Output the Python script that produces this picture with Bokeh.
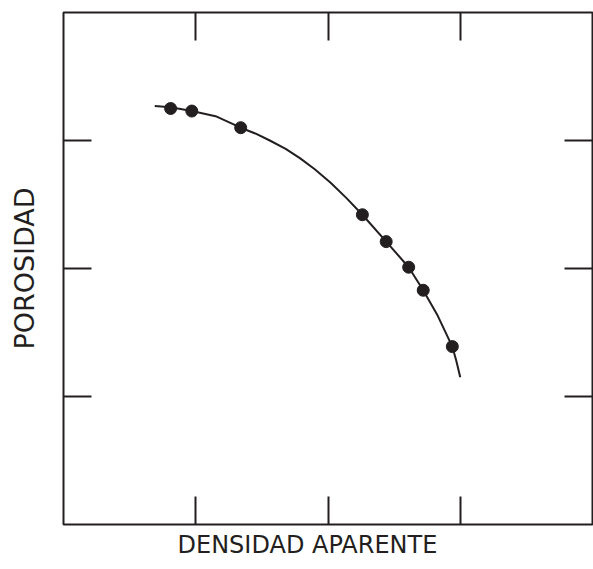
from bokeh.plotting import figure
from bokeh.models import LinearAxis, FixedTicker, Range1d, Title
from bokeh.embed import file_html
from bokeh.resources import INLINE

dens = [0.81, 0.97, 1.34, 2.26, 2.44, 2.61, 2.72, 2.94]
poro = [3.25, 3.23, 3.10, 2.42, 2.21, 2.01, 1.83, 1.39]

# Fitted curve
curve_x = [0.69, 0.81, 0.97, 1.15, 1.34, 1.45, 1.56, 1.68, 1.79, 1.90, 2.02, 2.14, 2.26, 2.44, 2.61, 2.72, 2.83, 2.94, 2.97, 3.00]
curve_y = [3.27, 3.26, 3.23, 3.19, 3.10, 3.055, 3.00, 2.935, 2.86, 2.775, 2.67, 2.55, 2.42, 2.21, 2.01, 1.83, 1.63, 1.39, 1.28, 1.15]

ticks = [1, 2, 3]
x_label = "DENSIDAD APARENTE"
y_label = "POROSIDAD"

INK = "#231f20"

p = figure(width=593, height=569, output_backend="svg", toolbar_location=None,
           x_range=Range1d(0, 4), y_range=Range1d(0, 4),
           min_border_left=63, min_border_right=1, min_border_top=12, min_border_bottom=45,
           y_axis_label=y_label)
p.grid.visible = False
p.background_fill_color = "white"
p.border_fill_color = "white"
p.outline_line_color = INK
p.outline_line_width = 2

def style_axis(ax):
    ax.ticker = FixedTicker(ticks=ticks)
    ax.minor_tick_line_color = None
    ax.major_tick_in = 28
    ax.major_tick_out = 0
    ax.major_tick_line_color = INK
    ax.major_tick_line_width = 2
    ax.axis_line_color = None
    ax.major_label_text_font_size = "1px"
    ax.major_label_text_color = None
    ax.major_label_standoff = 0
    ax.axis_label_text_font = "DejaVu Sans"
    ax.axis_label_text_font_style = "normal"
    ax.axis_label_text_color = INK

style_axis(p.xaxis[0])
style_axis(p.yaxis[0])
p.yaxis[0].axis_label_text_font_size = "27px"
p.yaxis[0].axis_label_standoff = 24

top = LinearAxis()
right = LinearAxis()
style_axis(top)
style_axis(right)
p.add_layout(top, "above")
p.add_layout(right, "right")

xt = Title(text=x_label, align="left", offset=114, standoff=8,
           vertical_align="bottom", text_line_height=0.6,
           text_font="DejaVu Sans", text_font_style="normal",
           text_font_size="24px", text_color=INK)
p.add_layout(xt, "below")

p.line(curve_x, curve_y, line_color=INK, line_width=2)
p.scatter(dens, poro, size=12, fill_color=INK, line_color=INK)

open("out.html", "w").write(file_html(p, INLINE))
